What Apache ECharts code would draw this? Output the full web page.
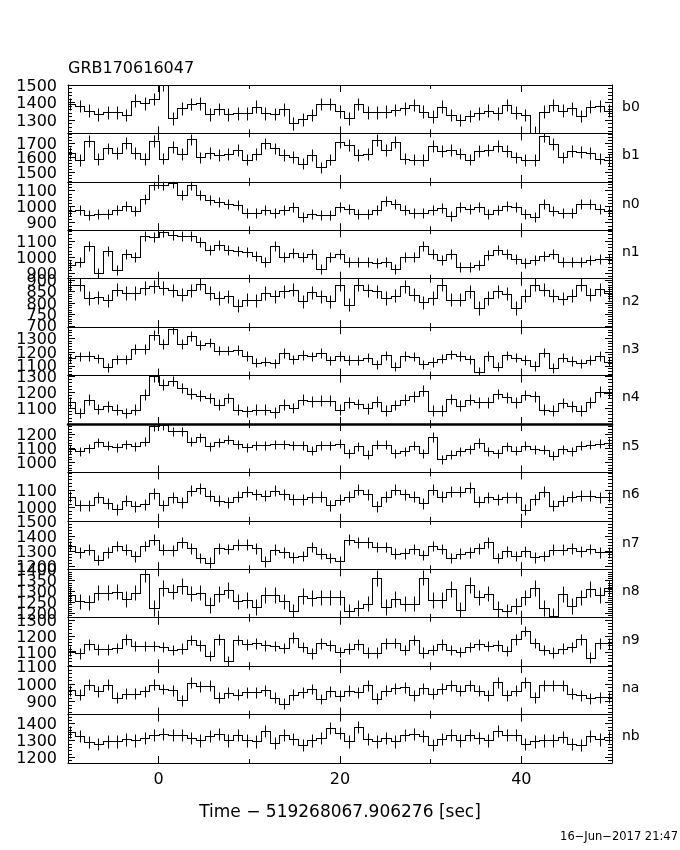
<!DOCTYPE html>
<html><head><meta charset="utf-8">
<script src="https://cdn.jsdelivr.net/npm/echarts@6/dist/echarts.min.js"></script>
<style>html,body{margin:0;padding:0;background:#fff}#c{width:680px;height:850px}</style>
</head><body><div id="c"></div>
<script>
const titleText = 'GRB170616047';
const xAxisTitle = 'Time \u2212 519268067.906276 [sec]';
const dateText = '16\u2212Jun\u22122017 21:47';
const detectorNames = ['b0','b1','n0','n1','n2','n3','n4','n5','n6','n7','n8','n9','na','nb'];
const BIN_WIDTH = 1.024;
const FIRST_BIN = -10;
const X_MIN = -10, X_MAX = 50;
const xMajorTicks = [0, 20, 40];
const xMinorTicks = [10, 30];

const countsB0 = [1392,1380,1354,1333,1344,1344,1329,1411,1396,1420,
1500,1310,1367,1392,1396,1333,1363,1333,1339,1339,
1377,1339,1335,1362,1282,1305,1329,1392,1392,1350,
1310,1392,1344,1344,1348,1358,1367,1386,1348,1320,
1377,1329,1301,1324,1339,1354,1339,1386,1343,1329,
1230,1348,1386,1354,1367,1324,1377,1380,1354];
const countsB1 = [1633,1583,1713,1590,1663,1633,1701,1633,1590,1713,
1594,1674,1624,1724,1601,1633,1617,1624,1651,1587,
1624,1697,1663,1617,1606,1560,1617,1533,1587,1705,
1685,1617,1624,1720,1651,1708,1594,1587,1583,1678,
1647,1651,1628,1587,1647,1651,1681,1647,1601,1583,
1583,1747,1692,1601,1647,1640,1633,1594,1583];
const countsN0 = [973,978,946,957,957,982,1002,973,1050,1137,
1137,1144,1071,1137,1071,1044,1029,1019,1009,963,
963,978,963,978,998,936,957,946,946,998,
988,953,957,978,1036,1015,978,961,961,982,
994,940,998,988,998,957,982,1002,998,957,
936,1015,973,961,961,1019,1015,988,971];
const countsN1 = [950,970,1068,902,1039,919,1022,1001,1130,1126,
1157,1136,1132,1132,1095,1043,1074,1043,1039,1033,
1008,970,1070,1001,1026,1001,1018,929,1001,1018,
970,970,970,964,970,929,1001,1001,1068,1022,
981,1018,939,939,950,1012,1047,1022,991,964,
981,1006,1022,970,970,970,985,991,991];
const countsN2 = [881,881,822,826,812,859,844,844,866,873,
866,856,836,856,885,844,822,829,788,814,
812,844,829,851,859,807,847,829,807,881,
792,881,856,851,822,832,873,836,803,822,
881,814,814,851,778,822,851,841,778,832,
881,859,832,819,832,881,836,861,844];
const countsN3 = [1154,1167,1171,1154,1089,1147,1147,1220,1220,1323,
1256,1365,1256,1316,1251,1268,1210,1210,1215,1171,
1123,1130,1118,1191,1147,1179,1167,1191,1138,1171,
1141,1141,1159,1110,1176,1093,1171,1166,1110,1127,
1151,1183,1171,1146,1054,1171,1093,1176,1159,1141,
1098,1195,1085,1159,1134,1117,1141,1171,1130];
const countsN4 = [1137,1071,1154,1096,1112,1092,1071,1092,1185,1300,
1248,1269,1227,1192,1179,1164,1123,1164,1092,1081,
1092,1092,1075,1123,1102,1154,1144,1148,1148,1092,
1137,1127,1100,1142,1085,1121,1154,1175,1210,1085,
1085,1158,1117,1154,1137,1137,1190,1169,1137,1183,
1175,1092,1085,1133,1112,1085,1137,1204,1196];
const countsN5 = [1095,1078,1100,1143,1119,1107,1131,1114,1148,1259,
1269,1223,1223,1148,1180,1114,1143,1163,1131,1107,
1124,1124,1131,1131,1124,1124,1083,1124,1124,1134,
1066,1114,1054,1127,1127,1066,1078,1119,1066,1182,
1023,1054,1078,1095,1139,1078,1066,1114,1085,1119,
1095,1090,1047,1095,1078,1119,1127,1134,1139];
const countsN6 = [1063,1013,1013,1058,1025,990,1038,1006,1019,1083,
1013,1058,1029,1096,1110,1067,1038,1029,1063,1090,
1077,1067,1096,1077,1048,1048,1058,1063,1013,1044,
1063,1102,1077,1006,1063,1102,1077,1063,1025,1102,
1063,1090,1090,1115,1033,1058,1048,1058,1058,987,
1048,1090,1010,1038,1063,1067,1067,1058,1063];
const countsN7 = [1336,1291,1309,1241,1291,1336,1309,1264,1336,1377,
1309,1305,1359,1320,1253,1223,1320,1314,1343,1343,
1320,1230,1309,1291,1259,1268,1327,1282,1253,1230,
1377,1359,1359,1327,1327,1282,1286,1314,1275,1336,
1314,1253,1282,1291,1320,1359,1253,1298,1268,1298,
1259,1268,1309,1309,1320,1298,1314,1291,1291];
const countsN8 = [1285,1255,1250,1295,1295,1300,1265,1295,1379,1224,
1315,1300,1326,1291,1295,1239,1288,1306,1255,1261,
1230,1285,1285,1255,1209,1280,1270,1273,1273,1273,
1209,1224,1245,1361,1230,1265,1245,1245,1364,1261,
1261,1311,1215,1330,1273,1291,1220,1209,1235,1273,
1315,1224,1189,1288,1235,1273,1311,1285,1315];
const countsN9 = [1106,1092,1148,1117,1117,1127,1179,1138,1138,1138,
1133,1113,1121,1175,1142,1075,1179,1044,1175,1148,
1154,1142,1138,1127,1190,1133,1092,1154,1142,1100,
1121,1148,1096,1096,1154,1158,1113,1175,1096,1113,
1148,1113,1100,1133,1148,1138,1142,1106,1179,1231,
1158,1113,1096,1121,1133,1179,1065,1154,1154];
const countsNA = [964,939,996,958,996,920,945,945,958,996,
971,964,907,1006,987,990,920,949,939,952,
952,964,920,888,939,952,971,914,958,933,
962,953,991,915,962,975,981,934,975,943,
972,991,962,991,962,934,1010,934,962,1010,
924,991,991,991,943,934,918,924,924];
const countsNB = [1350,1326,1290,1280,1294,1294,1306,1300,1314,1330,
1340,1334,1330,1314,1300,1326,1340,1300,1330,1300,
1294,1354,1286,1330,1310,1274,1300,1314,1374,1346,
1294,1380,1310,1294,1314,1294,1334,1340,1326,1274,
1310,1330,1300,1330,1314,1300,1354,1334,1334,1280,
1294,1300,1300,1320,1280,1274,1326,1306,1320];

// typical 1-sigma half length of the error bars, per detector
const errorHalf = [36,40,31,31,29,34,33,33,32,36,36,33,31,36];
// y-axis ranges per detector
const yMinList = [1225,1435,853,867,694,1029,1002,927,923,1177,1180,1012,825,1166];
const yMaxList = [1500,1765,1154,1167,907,1379,1304,1276,1202,1505,1402,1315,1101,1454];
// labelled y ticks per detector
const yTicksB0 = [1300,1400,1500];
const yTicksB1 = [1500,1600,1700];
const yTicksN0 = [900,1000,1100];
const yTicksN1 = [900,1000,1100];
const yTicksN2 = [700,750,800,850,900];
const yTicksN3 = [1100,1200,1300];
const yTicksN4 = [1100,1200,1300];
const yTicksN5 = [1000,1100,1200];
const yTicksN6 = [1000,1100];
const yTicksN7 = [1200,1300,1400,1500];
const yTicksN8 = [1200,1250,1300,1350,1400];
const yTicksN9 = [1100,1200,1300];
const yTicksNA = [900,1000,1100];
const yTicksNB = [1200,1300,1400];

const allCounts = [countsB0,countsB1,countsN0,countsN1,countsN2,countsN3,countsN4,countsN5,countsN6,countsN7,countsN8,countsN9,countsNA,countsNB];
const allTicks = [yTicksB0,yTicksB1,yTicksN0,yTicksN1,yTicksN2,yTicksN3,yTicksN4,yTicksN5,yTicksN6,yTicksN7,yTicksN8,yTicksN9,yTicksNA,yTicksNB];

// layout
const GRID_LEFT = 68, GRID_WIDTH = 544, GRID_TOP0 = 85, GRID_H = 48.43;
const FONT = "'DejaVu Sans', sans-serif";
const INK = '#000';

const chart = echarts.init(document.getElementById('c'), null, {renderer: 'canvas'});

const grids = [], xAxes = [], yAxes = [], series = [], graphics = [];
const N = detectorNames.length;

function minorValues(min, max, step) {
  const out = [];
  for (let v = Math.ceil(min / step) * step; v <= max; v += step) out.push(v);
  return out;
}

function renderBin(params, api) {
  const x0 = api.value(0), x1 = api.value(1), v = api.value(2), pv = api.value(3), e = api.value(4);
  const a = api.coord([x0, v]), b = api.coord([x1, v]), c = api.coord([x0, pv]);
  const xm = (x0 + x1) / 2;
  const m1 = api.coord([xm, v - e]), m2 = api.coord([xm, v + e]);
  const R = z => Math.round(z) + 0.5;
  const s = {stroke: INK, lineWidth: 1, fill: null};
  return {type: 'group', children: [
    {type: 'line', shape: {x1: R(a[0]) - 0.5, y1: R(a[1]), x2: R(b[0]) + 0.5, y2: R(a[1])}, style: s},
    {type: 'line', shape: {x1: R(a[0]), y1: R(c[1]), x2: R(a[0]), y2: R(a[1])}, style: s},
    {type: 'line', shape: {x1: R(m1[0]), y1: R(m1[1]), x2: R(m1[0]), y2: R(m2[1])}, style: s}
  ]};
}

const plain = v => String(v);

for (let p = 0; p < N; p++) {
  const top = GRID_TOP0 + p * GRID_H;
  grids.push({left: GRID_LEFT, top: top, width: GRID_WIDTH, height: GRID_H, containLabel: false});
  const last = p === N - 1;
  const lineStyle = {color: INK, width: 1};
  const topLineStyle = {color: INK, width: p === 7 ? 2.5 : 1};
  xAxes.push({
    type: 'value', gridIndex: p, position: 'bottom', min: X_MIN, max: X_MAX,
    axisLine: {show: true, onZero: false, lineStyle},
    axisTick: {show: true, inside: true, length: 7, lineStyle, customValues: xMajorTicks},
    axisLabel: {show: last, customValues: xMajorTicks, formatter: plain, margin: 9, color: INK, fontSize: 16, fontFamily: FONT},
    splitLine: {show: false},
    name: last ? xAxisTitle : '', nameLocation: 'middle', nameGap: 41,
    nameTextStyle: {color: INK, fontSize: 17, fontFamily: FONT}
  });
  xAxes.push({
    type: 'value', gridIndex: p, position: 'bottom', min: X_MIN, max: X_MAX,
    axisLine: {show: false, onZero: false},
    axisTick: {show: true, inside: true, length: 4, lineStyle, customValues: xMinorTicks},
    axisLabel: {show: false}, splitLine: {show: false}
  });
  xAxes.push({
    type: 'value', gridIndex: p, position: 'top', min: X_MIN, max: X_MAX,
    axisLine: {show: true, onZero: false, lineStyle: topLineStyle},
    axisTick: {show: true, inside: true, length: 7, lineStyle, customValues: xMajorTicks},
    axisLabel: {show: false}, splitLine: {show: false}
  });
  xAxes.push({
    type: 'value', gridIndex: p, position: 'top', min: X_MIN, max: X_MAX,
    axisLine: {show: false, onZero: false},
    axisTick: {show: true, inside: true, length: 4, lineStyle, customValues: xMinorTicks},
    axisLabel: {show: false}, splitLine: {show: false}
  });

  const ticks = allTicks[p];
  const step = ticks[1] - ticks[0];
  const minors = minorValues(yMinList[p], yMaxList[p], step / 5).filter(v => ticks.indexOf(v) < 0);
  const yBase = {type: 'value', gridIndex: p, min: yMinList[p], max: yMaxList[p], splitLine: {show: false}};
  yAxes.push(Object.assign({}, yBase, {
    position: 'left',
    axisLine: {show: true, onZero: false, lineStyle},
    axisTick: {show: true, inside: true, length: 7, lineStyle, customValues: ticks},
    axisLabel: {show: false}
  }));
  yAxes.push(Object.assign({}, yBase, {
    position: 'left',
    axisLine: {show: false, onZero: false},
    axisTick: {show: true, inside: true, length: 4, lineStyle, customValues: minors},
    axisLabel: {show: false}
  }));
  yAxes.push(Object.assign({}, yBase, {
    position: 'right',
    axisLine: {show: true, onZero: false, lineStyle},
    axisTick: {show: true, inside: true, length: 7, lineStyle, customValues: ticks},
    axisLabel: {show: false}
  }));
  yAxes.push(Object.assign({}, yBase, {
    position: 'right',
    axisLine: {show: false, onZero: false},
    axisTick: {show: true, inside: true, length: 4, lineStyle, customValues: minors},
    axisLabel: {show: false}
  }));

  const counts = allCounts[p];
  const items = counts.map((v, i) => {
    const x0 = (FIRST_BIN + i) * BIN_WIDTH;
    return [x0, x0 + BIN_WIDTH, v, i > 0 ? counts[i - 1] : v, errorHalf[p]];
  });
  series.push({
    type: 'custom', name: detectorNames[p], coordinateSystem: 'cartesian2d',
    xAxisIndex: 4 * p, yAxisIndex: 4 * p, clip: true, silent: true,
    encode: {x: 0, y: 2}, renderItem: renderBin, data: items, animation: false
  });

  graphics.push({
    type: 'text', left: GRID_LEFT + GRID_WIDTH + 10, top: top + GRID_H / 2 - 9,
    style: {text: detectorNames[p], fill: INK, font: '14px ' + FONT}
  });
}

graphics.push({type: 'text', right: 2, top: 831, style: {text: dateText, fill: INK, font: '11.5px ' + FONT}});

const baseOption = {
  backgroundColor: '#fff',
  animation: false,
  title: {text: titleText, left: 68, top: 61, padding: 0, textStyle: {color: INK, fontSize: 16, fontWeight: 'normal', fontFamily: FONT}},
  grid: grids, xAxis: xAxes, yAxis: yAxes, series: series, graphic: graphics
};
chart.setOption(baseOption);

// y tick labels, positioned through each panel's own y scale
const labelTexts = [];
for (let p = 0; p < N; p++) {
  allTicks[p].forEach(v => {
    const y = chart.convertToPixel({yAxisIndex: 4 * p}, v);
    labelTexts.push({
      type: 'text', x: GRID_LEFT - 11, y: y + 1.5,
      style: {text: String(v), fill: INK, font: '16px ' + FONT, textAlign: 'right', textVerticalAlign: 'middle'}
    });
  });
}
chart.setOption({graphic: graphics.concat(labelTexts)});
</script></body></html>
